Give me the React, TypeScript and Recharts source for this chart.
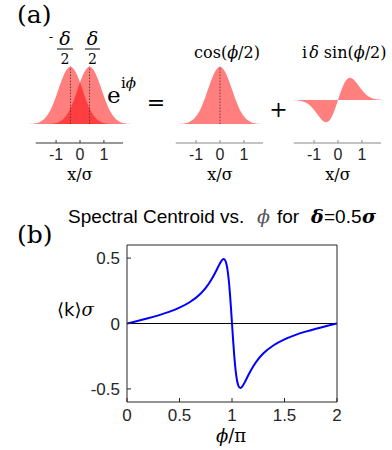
import React from 'react';
import { Area, ComposedChart, Line, LineChart, ReferenceLine, XAxis, YAxis } from 'recharts';

// panel (a): pulse profiles on a shared x/σ grid
const pulseX = [
  -2.3, -2.2, -2.1, -2.0, -1.9, -1.8, -1.7, -1.6, -1.5, -1.4, -1.3, -1.2, -1.1, -1.0, -0.9, -0.8,
  -0.7, -0.6, -0.5, -0.4, -0.3, -0.2, -0.1, 0, 0.1, 0.2, 0.3, 0.4, 0.5, 0.6, 0.7, 0.8, 0.9, 1.0,
  1.1, 1.2, 1.3, 1.4, 1.5, 1.6, 1.7, 1.8, 1.9, 2.0, 2.1, 2.2, 2.3,
];

const leftPulse = [
  0.0007, 0.0015, 0.003, 0.006, 0.011, 0.02, 0.034, 0.056, 0.089, 0.135, 0.198, 0.278, 0.375, 0.487,
  0.607, 0.726, 0.835, 0.923, 0.98, 1, 0.98, 0.923, 0.835, 0.726, 0.607, 0.487, 0.375, 0.278, 0.198,
  0.135, 0.089, 0.056, 0.034, 0.02, 0.011, 0.006, 0.003, 0.0015, 0.0007, 0.0003, 0, 0, 0, 0, 0, 0, 0,
];

const rightPulse = [
  0, 0, 0, 0, 0, 0, 0, 0.0003, 0.0007, 0.0015, 0.003, 0.006, 0.011, 0.02, 0.034, 0.056, 0.089, 0.135,
  0.198, 0.278, 0.375, 0.487, 0.607, 0.726, 0.835, 0.923, 0.98, 1, 0.98, 0.923, 0.835, 0.726, 0.607,
  0.487, 0.375, 0.278, 0.198, 0.135, 0.089, 0.056, 0.034, 0.02, 0.011, 0.006, 0.003, 0.0015, 0.0007,
];

const cosPulse = [
  0, 0, 0, 0.0003, 0.0007, 0.0015, 0.003, 0.006, 0.011, 0.02, 0.034, 0.056, 0.089, 0.135, 0.198,
  0.278, 0.375, 0.487, 0.607, 0.726, 0.835, 0.923, 0.98, 1, 0.98, 0.923, 0.835, 0.726, 0.607, 0.487,
  0.375, 0.278, 0.198, 0.135, 0.089, 0.056, 0.034, 0.02, 0.011, 0.006, 0.003, 0.0015, 0.0007, 0.0003,
  0, 0, 0,
];

const sinPulse = [
  0, 0, 0, -0.0008, -0.0017, -0.0035, -0.0065, -0.0123, -0.0211, -0.0358, -0.0566, -0.086, -0.1253,
  -0.1728, -0.2281, -0.2847, -0.336, -0.374, -0.3885, -0.3717, -0.3206, -0.2363, -0.1254, 0, 0.1254,
  0.2363, 0.3206, 0.3717, 0.3885, 0.374, 0.336, 0.2847, 0.2281, 0.1728, 0.1253, 0.086, 0.0566,
  0.0358, 0.0211, 0.0123, 0.0065, 0.0035, 0.0017, 0.0008, 0, 0, 0,
];

const pulseTicks = [-1, 0, 1];

// panel (b): spectral centroid vs phase
const phase = [
  0, 0.1, 0.2, 0.3, 0.4, 0.5, 0.6, 0.7, 0.75, 0.8, 0.84, 0.87, 0.9, 0.92, 0.93, 0.94, 0.95, 0.96,
  0.97, 0.98, 0.99, 1, 1.01, 1.02, 1.03, 1.04, 1.05, 1.06, 1.07, 1.08, 1.1, 1.13, 1.16, 1.2, 1.25,
  1.3, 1.4, 1.5, 1.6, 1.7, 1.8, 1.9, 2,
];

const centroid = [
  0, 0.0195, 0.0399, 0.0624, 0.0887, 0.1211, 0.1645, 0.2278, 0.2722, 0.3298, 0.3873, 0.4354, 0.4787,
  0.4923, 0.4884, 0.474, 0.4438, 0.3943, 0.3248, 0.2327, 0.1215, 0, -0.1215, -0.2327, -0.3248,
  -0.3943, -0.4438, -0.474, -0.4884, -0.4923, -0.4787, -0.4354, -0.3873, -0.3298, -0.2722, -0.2278,
  -0.1645, -0.1211, -0.0887, -0.0624, -0.0399, -0.0195, 0,
];

const phaseTicks = [0, 0.5, 1, 1.5, 2];
const centroidTicks = [-0.5, 0, 0.5];

const SANS = 'Liberation Sans, Arial, sans-serif';
const SERIF = 'DejaVu Serif, serif';
const AXIS = '#262626';

type Series = { key: string; values: number[] };

function PulsePanel({
  left,
  yDomain,
  series,
  centers,
  axisColor,
}: {
  left: number;
  yDomain: [number, number];
  series: Series[];
  centers: number[];
  axisColor: string;
}) {
  const rows = pulseX.map((x, i) => {
    const row: Record<string, number> = { x };
    series.forEach((s) => {
      row[s.key] = s.values[i];
    });
    return row;
  });

  return (
    <div style={{ position: 'absolute', left, top: 61 }}>
      <ComposedChart width={110} height={112} data={rows} margin={{ top: 0, right: 0, bottom: 0, left: 0 }}>
        <XAxis
          type="number"
          dataKey="x"
          domain={[-2.3, 2.3]}
          ticks={pulseTicks}
          interval={0}
          allowDataOverflow
          axisLine={false}
          tickLine={{ stroke: axisColor }}
          tickSize={-3}
          tickMargin={9}
          height={30}
          tick={{ fontSize: 16, fill: AXIS, fontFamily: SANS }}
        />
        <YAxis hide type="number" domain={yDomain} allowDataOverflow />
        {series.map((s) => (
          <Area
            key={s.key}
            dataKey={s.key}
            type="monotone"
            stroke="none"
            fill="#ff0000"
            fillOpacity={0.5}
            baseValue={0}
            isAnimationActive={false}
          />
        ))}
        {centers.map((c) => (
          <ReferenceLine
            key={c}
            segment={[
              { x: c, y: 0 },
              { x: c, y: 1 },
            ]}
            stroke="#333"
            strokeWidth={0.8}
            strokeDasharray="1.5 1.5"
          />
        ))}
        <ReferenceLine
          segment={[
            { x: -1.85, y: yDomain[0] },
            { x: 1.8, y: yDomain[0] },
          ]}
          stroke={axisColor}
          ifOverflow="visible"
        />
      </ComposedChart>
    </div>
  );
}

export default function App() {
  const rows = phase.map((p, i) => ({ phase: p, k: centroid[i] }));
  const tickStyle = { fontSize: 17, fill: AXIS, fontFamily: SANS };

  return (
    <div style={{ position: 'absolute', left: 0, top: 0, width: 392, height: 450, background: '#fff' }}>
      <PulsePanel
        left={25}
        yDomain={[-0.33, 1.1]}
        series={[
          { key: 'l', values: leftPulse },
          { key: 'r', values: rightPulse },
        ]}
        centers={[-0.4, 0.4]}
        axisColor="#333"
      />
      <PulsePanel
        left={165}
        yDomain={[-0.33, 1.1]}
        series={[{ key: 'c', values: cosPulse }]}
        centers={[0]}
        axisColor="#888"
      />
      <PulsePanel
        left={283}
        yDomain={[-0.75, 0.68]}
        series={[{ key: 's', values: sinPulse }]}
        centers={[]}
        axisColor="#888"
      />

      <div style={{ position: 'absolute', left: 0, top: 200 }}>
        <LineChart width={392} height={250} data={rows} margin={{ top: 40, right: 50, bottom: 18, left: 87 }}>
          <XAxis
            xAxisId="b"
            type="number"
            dataKey="phase"
            domain={[0, 2]}
            ticks={phaseTicks}
            interval={0}
            stroke={AXIS}
            tickSize={-4}
            tickMargin={11}
            height={30}
            tick={tickStyle}
          />
          <XAxis
            xAxisId="t"
            orientation="top"
            type="number"
            dataKey="phase"
            domain={[0, 2]}
            ticks={phaseTicks}
            interval={0}
            stroke={AXIS}
            tickSize={-4}
            height={5}
            tick={false}
          />
          <YAxis
            yAxisId="l"
            type="number"
            domain={[-0.6, 0.6]}
            ticks={centroidTicks}
            interval={0}
            stroke={AXIS}
            tickSize={-4}
            tickMargin={11}
            width={40}
            tick={tickStyle}
          />
          <YAxis
            yAxisId="r"
            orientation="right"
            type="number"
            domain={[-0.6, 0.6]}
            ticks={centroidTicks}
            interval={0}
            stroke={AXIS}
            tickSize={-4}
            width={5}
            tick={false}
          />
          <ReferenceLine xAxisId="b" yAxisId="l" y={0} stroke="#000" strokeWidth={1} />
          <Line
            xAxisId="b"
            yAxisId="l"
            dataKey="k"
            type="monotone"
            stroke="#0000ff"
            strokeWidth={2}
            dot={false}
            isAnimationActive={false}
          />
        </LineChart>
      </div>

      <svg
        width={392}
        height={450}
        style={{ position: 'absolute', left: 0, top: 0, pointerEvents: 'none' }}
      >
        <g fontFamily={SERIF} fill="#000">
          <text x={17} y={23} fontSize={25}>(a)</text>
          <text x={51} y={41} fontSize={13} textAnchor="middle">-</text>
          <text x={65} y={45} fontSize={19} fontStyle="italic" textAnchor="middle">δ</text>
          <line x1={57} x2={73} y1={49} y2={49} stroke="#000" strokeWidth={1} />
          <text x={65} y={64} fontSize={14} textAnchor="middle">2</text>
          <text x={92.5} y={45} fontSize={19} fontStyle="italic" textAnchor="middle">δ</text>
          <line x1={85} x2={100} y1={49} y2={49} stroke="#000" strokeWidth={1} />
          <text x={92.5} y={64} fontSize={14} textAnchor="middle">2</text>

          <text x={107} y={103} fontSize={23}>e</text>
          <text x={121} y={88} fontSize={15}>
            i<tspan fontStyle="italic">ϕ</tspan>
          </text>
          <text x={156} y={110} fontSize={22} textAnchor="middle">=</text>
          <text x={278.5} y={117} fontSize={22} textAnchor="middle">+</text>

          <text x={227} y={58} fontSize={16} textAnchor="middle">
            cos(<tspan fontStyle="italic">ϕ</tspan>/2)
          </text>
          <text x={302} y={58} fontSize={16}>
            i<tspan fontStyle="italic" dx={2}>δ</tspan> sin(<tspan fontStyle="italic">ϕ</tspan>/2)
          </text>

          <text x={80} y={180} fontSize={16} textAnchor="middle">x/σ</text>
          <text x={220} y={180} fontSize={16} textAnchor="middle">x/σ</text>
          <text x={338} y={180} fontSize={16} textAnchor="middle">x/σ</text>

          <text x={17} y={243} fontSize={25}>(b)</text>
        </g>

        <text y={223} fontSize={19} fontFamily={SANS} fill="#000">
          <tspan x={68}>Spectral Centroid vs.</tspan>
          <tspan x={257} fontFamily={SERIF} fontStyle="italic" fill="#555">ϕ</tspan>
          <tspan x={277}>for</tspan>
          <tspan x={311} fontFamily={SERIF} fontStyle="italic" fontWeight="bold">δ</tspan>
          <tspan x={324}>=0.5</tspan>
          <tspan x={362} fontFamily={SERIF} fontStyle="italic" fontWeight="bold">σ</tspan>
        </text>

        <text x={57} y={316} fontSize={18} fontFamily="DejaVu Sans, sans-serif" fill="#000">
          ⟨k⟩<tspan fontFamily={SERIF} fontStyle="italic">σ</tspan>
        </text>

        <text x={231} y={442} fontSize={18} fontFamily={SERIF} textAnchor="middle" fill="#000">
          <tspan fontStyle="italic">ϕ</tspan>/π
        </text>
      </svg>
    </div>
  );
}
